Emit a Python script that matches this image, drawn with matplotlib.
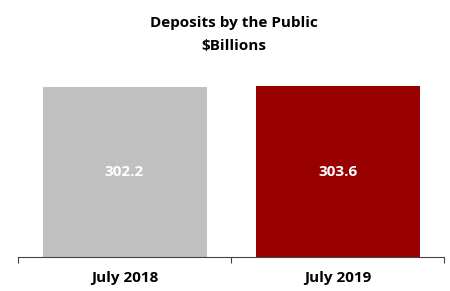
import matplotlib.pyplot as plt

categories = ["July 2018", "July 2019"]
values = [302.2, 303.6]
colors = ["#C0C0C0", "#990000"]

plt.rcParams['font.family'] = ['Open Sans', 'DejaVu Sans']

fig = plt.figure(figsize=(4.5, 2.91), dpi=100)
ax = fig.add_axes([0.04, 0.1168, 0.947, 0.643])

x = range(len(categories))
bars = ax.bar(x, values, width=0.77, color=colors)
for b, v in zip(bars, values):
    ax.text(b.get_x() + b.get_width() / 2, v / 2, f"{v:.1f}", ha='center', va='center',
            color='white', fontweight='bold', fontsize=11)

ax.set_xlim(-0.5, 1.5)
ax.set_ylim(0, 333)
ax.set_xticks(list(x))
ax.set_xticklabels(categories, fontweight='bold', fontsize=11)
ax.tick_params(axis='x', which='major', length=0, pad=10)
ax.set_xticks([-0.5, 0.5, 1.5], minor=True)
ax.tick_params(axis='x', which='minor', length=4, width=0.8, color='#444444')
ax.set_yticks([])
for s in ['top', 'right', 'left']:
    ax.spines[s].set_visible(False)
ax.spines['bottom'].set_color('#444444')
ax.spines['bottom'].set_linewidth(0.8)

fig.text(0.52, 0.907, "Deposits by the Public", ha='center', va='baseline',
         fontweight='bold', fontsize=11)
fig.text(0.52, 0.828, "$Billions", ha='center', va='baseline',
         fontweight='bold', fontsize=11)

fig.savefig("out.png", dpi=100)
